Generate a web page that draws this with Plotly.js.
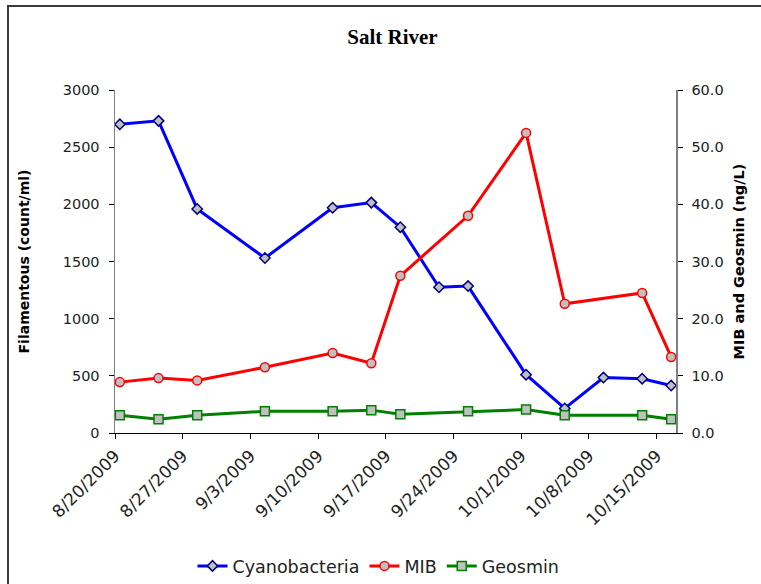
<!DOCTYPE html>
<html>
<head>
<meta charset="utf-8">
<script src="https://cdn.plot.ly/plotly-3.0.1.min.js"></script>
<style>
  html, body { margin: 0; padding: 0; background: #fff; overflow: hidden; }
  #wrap { position: relative; width: 761px; height: 584px; overflow: hidden; }
  #chart { width: 761px; height: 584px; }
  #frame { position: absolute; left: 7px; top: 5px; width: 820px; height: 720px;
           border: 2.5px solid #3a3a3a; pointer-events: none; }
</style>
</head>
<body>
<div id="wrap">
  <div id="chart"></div>
  <div id="frame"></div>
</div>
<script>
// ---- data ----
const cyanoDates = ['2009-08-20 12:00','2009-08-24 12:00','2009-08-28 12:00','2009-09-04 12:00',
  '2009-09-11 12:00','2009-09-15 12:00','2009-09-18 12:00','2009-09-22 12:00','2009-09-25 12:00',
  '2009-10-01 12:00','2009-10-05 12:00','2009-10-09 12:00','2009-10-13 12:00','2009-10-16 12:00'];
const cyanobacteria = [2700, 2730, 1960, 1530, 1970, 2015, 1800, 1275, 1285, 510, 215, 485, 475, 415];

const odorDates = ['2009-08-20 12:00','2009-08-24 12:00','2009-08-28 12:00','2009-09-04 12:00',
  '2009-09-11 12:00','2009-09-15 12:00','2009-09-18 12:00','2009-09-25 12:00',
  '2009-10-01 12:00','2009-10-05 12:00','2009-10-13 12:00','2009-10-16 12:00'];
const mib     = [8.9, 9.6, 9.2, 11.5, 14.0, 12.2, 27.5, 38.0, 52.5, 22.6, 24.5, 13.3];
const geosmin = [3.1, 2.4, 3.1, 3.8, 3.8, 4.0, 3.3, 3.8, 4.1, 3.1, 3.1, 2.4];

const tickDates  = ['2009-08-20','2009-08-27','2009-09-03','2009-09-10','2009-09-17',
  '2009-09-24','2009-10-01','2009-10-08','2009-10-15'];
const tickLabels = ['8/20/2009','8/27/2009','9/3/2009','9/10/2009','9/17/2009',
  '9/24/2009','10/1/2009','10/8/2009','10/15/2009'];

const seriesNames = ['Cyanobacteria', 'MIB', 'Geosmin'];

// ---- traces ----
const FONT = 'DejaVu Sans';
const traces = [
  { x: cyanoDates, y: cyanobacteria, name: seriesNames[0], type: 'scatter', mode: 'lines+markers',
    yaxis: 'y', line: { color: '#0000FF', width: 3 },
    marker: { symbol: 'diamond', size: 8, color: '#C0C0C0', line: { color: '#000080', width: 1.5 } } },
  { x: odorDates, y: mib, name: seriesNames[1], type: 'scatter', mode: 'lines+markers',
    yaxis: 'y2', line: { color: '#FF0000', width: 3 },
    marker: { symbol: 'circle', size: 9, color: '#C0C0C0', line: { color: '#FF0000', width: 1.5 } } },
  { x: odorDates, y: geosmin, name: seriesNames[2], type: 'scatter', mode: 'lines+markers',
    yaxis: 'y2', line: { color: '#008000', width: 3 },
    marker: { symbol: 'square', size: 9, color: '#C0C0C0', line: { color: '#008000', width: 1.5 } } }
];

const layout = {
  width: 761, height: 584,
  margin: { l: 115, r: 85, t: 90, b: 151, pad: 0 },
  paper_bgcolor: '#ffffff', plot_bgcolor: '#ffffff',
  font: { family: FONT, size: 14.5, color: '#000' },
  showlegend: true,
  title: { text: '<b>Salt River</b>', font: { family: 'Liberation Serif', size: 21, color: '#000' },
           xref: 'container', yref: 'container', x: 392.5 / 761, xanchor: 'center',
           y: 1 - 37 / 584, yanchor: 'middle' },
  xaxis: {
    type: 'date', range: ['2009-08-20', '2009-10-17'],
    tickmode: 'array', tickvals: tickDates, ticktext: tickLabels, tickangle: -45,
    ticks: 'outside', ticklen: 5, tickcolor: '#000', tickwidth: 1,
    showline: true, linecolor: '#000', linewidth: 1.2,
    showgrid: false, zeroline: false,
    tickfont: { family: FONT, size: 17, color: '#222' }
  },
  yaxis: {
    range: [0, 3000], dtick: 500, tick0: 0,
    ticks: 'outside', ticklen: 5, tickcolor: '#000', tickwidth: 1,
    showline: true, linecolor: '#808080', linewidth: 1.5,
    showgrid: false, zeroline: false, ticklabelstandoff: 6,
    tickfont: { family: FONT, size: 14.5, color: '#222' },
    title: { text: '<b>Filamentous (count/ml)</b>', standoff: 30,
             font: { family: FONT, size: 14, color: '#000' } }
  },
  yaxis2: {
    range: [0, 60], dtick: 10, tick0: 0, tickformat: '.1f',
    overlaying: 'y', side: 'right', anchor: 'x',
    ticks: 'outside', ticklen: 5, tickcolor: '#000', tickwidth: 1,
    showline: true, linecolor: '#808080', linewidth: 1.5,
    showgrid: false, zeroline: false, ticklabelstandoff: 6,
    tickfont: { family: FONT, size: 14.5, color: '#222' },
    title: { text: '<b>MIB and Geosmin (ng/L)</b>', standoff: 11,
             font: { family: FONT, size: 14.5, color: '#000' } }
  },
  yaxis3: {
    range: [0, 60], dtick: 10, tick0: 0,
    overlaying: 'y', side: 'right', anchor: 'x',
    ticks: 'inside', ticklen: 5, tickcolor: '#000', tickwidth: 1,
    showline: false, showgrid: false, zeroline: false, showticklabels: false
  },
  legend: {
    orientation: 'h', xref: 'container', yref: 'container',
    x: 378.5 / 761, xanchor: 'center', y: 1 - 566 / 584, yanchor: 'middle',
    font: { family: FONT, size: 17.5, color: '#222' }, bgcolor: 'rgba(0,0,0,0)',
    itemwidth: 30, traceorder: 'normal'
  }
};

Plotly.newPlot('chart', traces, layout, { displayModeBar: false, staticPlot: true });
</script>
</body>
</html>
